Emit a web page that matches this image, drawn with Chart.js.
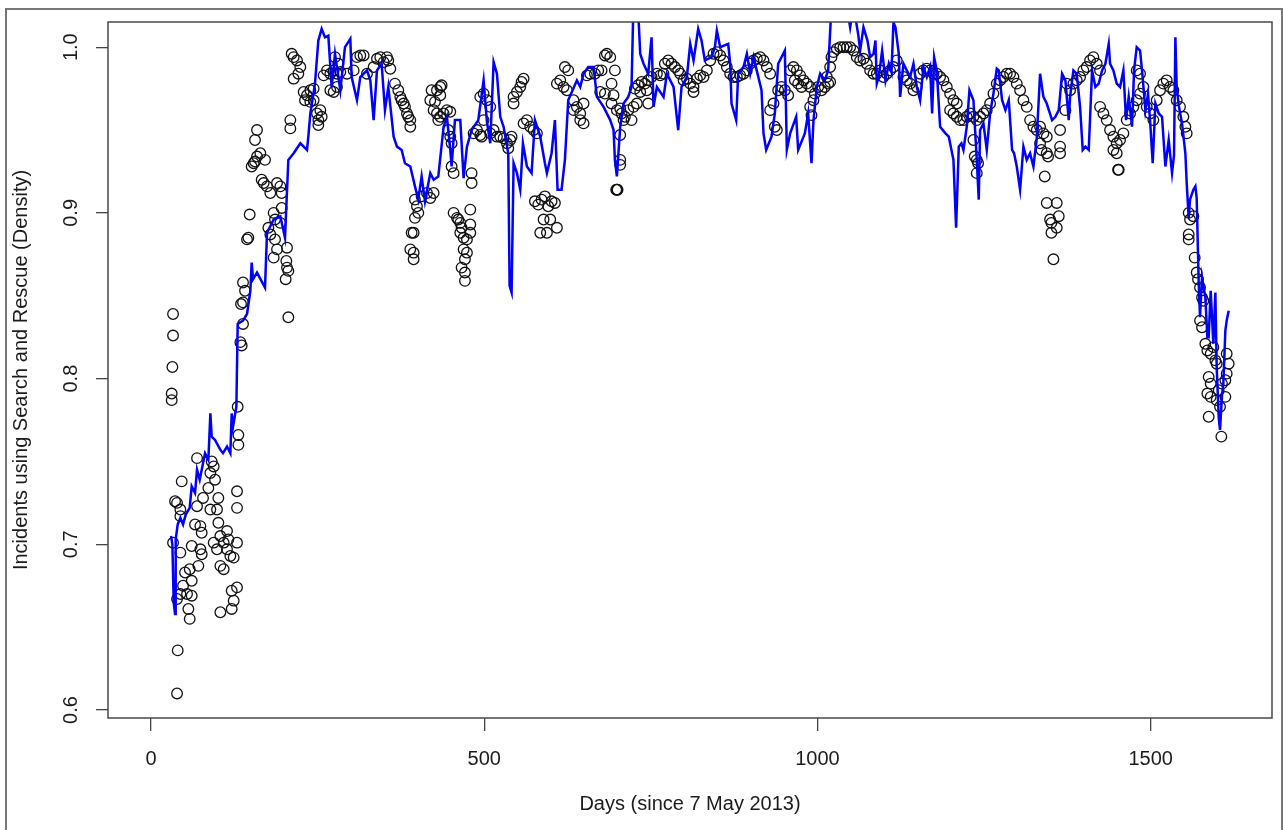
<!DOCTYPE html>
<html>
<head>
<meta charset="utf-8">
<script src="https://cdn.jsdelivr.net/npm/chart.js@4.4.1/dist/chart.umd.min.js"></script>
<style>
html,body{margin:0;padding:0;background:#fff;}
canvas{display:block;}
</style>
</head>
<body>
<canvas id="c" width="1283" height="830"></canvas>
<script>
// ---- Fitted (blue) series: day, density ----
const lineDays = [30,32,34,36,37,40,44,48,52,58,61,66,69,73,81,86,89,91,96,104,108,114,119,121,123,128,130,134,138,144,149,151,153,159,171,174,184,194,201,206,214,224,234,236,239,246,251,256,261,266,271,276,284,291,299,301,309,314,324,329,334,339,346,351,356,364,369,376,381,389,396,401,406,411,419,424,431,439,444,449,451,456,464,469,474,481,491,499,504,509,514,519,524,529,536,538,541,544,549,554,558,564,571,576,584,591,594,601,606,610,616,621,626,639,644,649,656,664,669,679,689,694,696,699,704,709,716,721,724,730,734,739,746,751,754,759,769,774,784,791,796,804,809,814,821,826,831,841,846,849,854,866,869,871,878,881,889,894,899,904,916,919,923,931,936,941,951,954,959,968,971,981,986,991,994,999,1004,1011,1016,1021,1029,1036,1044,1049,1054,1061,1064,1069,1075,1079,1084,1087,1089,1092,1097,1102,1107,1111,1114,1117,1122,1124,1129,1134,1139,1144,1149,1154,1159,1164,1169,1172,1175,1179,1184,1192,1197,1204,1208,1212,1216,1219,1224,1228,1234,1239,1242,1244,1249,1254,1259,1264,1269,1272,1277,1282,1287,1292,1295,1299,1304,1309,1314,1319,1324,1329,1334,1339,1344,1352,1357,1362,1367,1372,1377,1379,1384,1389,1394,1398,1402,1407,1412,1417,1422,1427,1432,1437,1439,1444,1449,1454,1459,1463,1467,1472,1475,1479,1484,1487,1492,1496,1499,1503,1507,1512,1517,1522,1527,1532,1535,1537,1539,1542,1547,1552,1554,1557,1559,1564,1567,1569,1572,1574,1577,1582,1585,1587,1590,1594,1597,1599,1602,1604,1607,1609,1612,1614,1617];
const lineDensity = [.705,.700,.665,.658,.703,.712,.716,.712,.718,.722,.735,.731,.745,.739,.755,.751,.779,.765,.763,.757,.755,.759,.755,.779,.771,.783,.833,.834,.835,.839,.853,.870,.860,.864,.855,.888,.896,.898,.885,.932,.936,.942,.938,.946,.960,.978,1.004,1.011,1.006,1.007,.976,.996,.974,1.000,1.005,.982,.968,.982,.986,.980,.956,.986,.990,.962,.976,.946,.940,.938,.930,.928,.916,.908,.922,.907,.924,.920,.922,.952,.958,.938,.928,.956,.956,.921,.940,.950,.956,.980,.955,.942,.991,.984,.958,.952,.936,.856,.852,.930,.924,.914,.942,.928,.924,.956,.946,.930,.924,.936,.956,.914,.914,.932,.968,.980,.976,.984,.988,.988,.970,.964,.956,.950,.932,.922,.952,.966,.970,.976,1.030,1.030,.996,.990,.984,1.006,.964,.976,.970,.984,.976,.950,.976,.982,1.002,.992,1.011,1.004,.992,.994,1.000,1.010,1.000,1.002,.990,.966,.956,.984,.988,.996,.984,.994,.974,.948,.938,.946,.960,.990,.998,.938,.948,.958,.938,.948,.960,.930,.956,.976,.984,.980,.986,1.025,1.020,1.018,1.025,1.012,1.025,1.008,.998,1.012,1.004,.994,.996,1.004,.978,.982,.998,.980,.990,.985,1.015,1.012,.996,.970,.990,.986,.982,.990,.976,.968,.988,.982,.988,.960,.994,.986,.952,.948,.946,.932,.891,.940,.942,.938,.952,.974,.968,.932,.908,.950,.954,.938,.960,.972,.987,.986,.968,.962,.968,.938,.936,.928,.914,.940,.932,.936,.928,.945,.984,.970,.966,.956,.958,.962,.984,.980,.956,.970,.986,.984,.964,.938,.940,.938,.986,.976,.978,.986,.990,1.002,.990,.986,.978,.976,.986,.956,.970,.952,.986,1.000,.998,.986,.962,.972,.956,.930,.966,.960,.958,.928,.944,.924,.935,1.006,.976,.965,.954,.936,.918,.897,.908,.914,.916,.909,.858,.837,.861,.849,.825,.825,.853,.821,.852,.807,.777,.769,.790,.797,.829,.835,.841];

// ---- Observed (circles) series: day, density ----
const obsDays = [
33,33,32,31,31,40,39,69,46,36,39,44,44,69,66,74,76,61,74,76,71,58,51,61,48,44,54,61,56,58,39,33,44,
91,94,89,96,86,78,101,89,99,101,114,104,116,94,109,129,99,114,119,124,104,109,129,121,124,121,104,129,129,131,131,130,134,136,138,135,138,141,138,
144,146,148,151,154,156,159,164,171,159,156,166,169,174,179,189,194,196,184,186,194,176,179,186,189,184,196,204,203,204,206,202,206,209,209,211,214,219,224,221,214,
229,234,239,244,231,239,244,249,251,254,256,251,259,264,269,274,279,284,294,304,309,319,324,269,274,279,276,281,314,334,339,344,349,354,356,359,366,371,374,376,379,381,384,386,389,389,
396,399,401,396,394,389,394,394,391,406,414,419,424,421,429,434,436,419,426,434,424,429,434,439,444,449,431,446,449,451,451,454,454,459,461,464,466,464,469,474,469,474,471,466,471,471,479,479,479,481,481,484,489,494,499,504,509,514,519,494,499,
496,509,524,529,534,539,536,541,544,549,554,556,559,544,559,564,569,574,579,576,581,586,591,596,601,606,589,599,584,594,609,609,614,619,624,621,626,634,639,644,649,644,649,634,654,659,666,671,676,681,684,689,674,681,691,696,694,691,699,704,704,704,699,700,698,704,706,711,716,721,724,729,709,
726,731,736,741,746,734,744,746,751,759,764,769,771,776,781,786,791,794,799,804,809,814,819,824,829,834,839,844,849,854,859,864,869,874,879,884,889,894,899,904,909,914,919,924,929,814,934,929,939,936,
941,946,951,956,959,964,969,974,979,984,989,966,971,976,989,994,996,991,1001,1006,1011,1016,1019,1021,1024,1029,1034,1039,1044,1049,1054,1059,1064,1069,1074,1079,1084,1014,1019,
1089,1094,1099,1104,1109,1114,1119,1129,1134,1139,1144,1149,1154,1159,1164,1169,1174,1179,1184,1189,1194,1199,1204,1209,1199,1204,1209,1214,1219,1224,1229,1234,1239,1244,1249,1254,1259,1264,1269,1274,1279,1284,1289,1294,1299,1304,1309,1314,1319,1324,1329,1234,1236,1239,1241,1239,
1334,1339,1344,1334,1336,1344,1346,1341,1344,1359,1349,1362,1351,1359,1351,1354,1364,1364,1364,1372,1374,1379,1384,1389,1394,1399,1404,1409,1414,1419,1424,1424,1429,1434,1439,1444,1449,1454,1459,1464,1469,1474,1479,1484,1489,1444,1449,1452,1451,1479,1484,
1494,1499,1504,1509,1514,1519,1524,1529,1534,1539,1544,1549,1552,1554,1557,1559,1564,1557,1557,1566,1569,1571,1574,1577,1579,1574,1577,1582,1585,1590,1594,1597,1599,1587,1590,1585,1590,1587,1599,1604,1612,1614,1617,1614,1612,1607,1602,1606
];
const obsDensity = [
.839,.826,.807,.791,.787,.636,.610,.752,.738,.726,.725,.721,.717,.723,.712,.711,.707,.699,.697,.694,.687,.685,.683,.678,.675,.670,.670,.669,.661,.655,.667,.701,.695,
.750,.747,.743,.739,.734,.728,.728,.721,.721,.713,.708,.705,.703,.701,.701,.701,.697,.697,.693,.692,.687,.685,.674,.672,.666,.661,.659,.732,.722,.766,.760,.783,.822,.820,.833,.845,.846,.853,.858,
.884,.885,.899,.928,.930,.931,.934,.936,.932,.950,.944,.920,.918,.916,.912,.918,.916,.912,.900,.896,.894,.891,.887,.884,.878,.873,.903,.879,.871,.867,.865,.860,.837,.956,.951,.996,.994,.992,.988,.984,.981,
.973,.971,.974,.975,.968,.967,.968,.960,.956,.962,.958,.953,.983,.986,.984,.986,.984,.985,.984,.986,.994,.995,.984,.974,.973,.976,.994,.990,.995,.988,.993,.994,.991,.994,.992,.987,.978,.974,.970,.968,.966,.964,.960,.958,.956,.952,
.908,.904,.900,.897,.888,.878,.876,.872,.888,.910,.912,.909,.912,.974,.974,.976,.977,.968,.967,.971,.962,.960,.958,.960,.962,.961,.956,.950,.946,.942,.928,.924,.900,.897,.896,.894,.891,.888,.885,.884,.878,.876,.872,.867,.864,.859,.902,.893,.888,.924,.918,.948,.950,.947,.956,.968,.964,.950,.946,.970,.972,
.946,.948,.946,.945,.942,.944,.939,.946,.970,.973,.976,.979,.981,.966,.954,.956,.952,.950,.948,.907,.905,.908,.910,.904,.907,.906,.896,.896,.888,.888,.891,.978,.980,.976,.974,.988,.986,.968,.964,.960,.966,.956,.954,.962,.983,.984,.984,.986,.986,.995,.996,.994,.973,.972,.978,.986,.971,.966,.962,.947,.932,.929,.914,.914,.914,.963,.960,.958,.962,.956,.964,.966,.956,
.975,.977,.979,.978,.980,.973,.974,.966,.982,.984,.983,.984,.990,.992,.990,.988,.986,.984,.980,.981,.978,.976,.981,.983,.982,.986,.992,.996,.997,.995,.992,.988,.984,.982,.982,.983,.984,.986,.990,.992,.993,.994,.992,.988,.984,.973,.966,.962,.950,.952,
.974,.976,.974,.971,.986,.988,.986,.983,.980,.978,.976,.980,.978,.976,.964,.968,.972,.959,.976,.974,.976,.978,.988,.994,.997,.999,1.000,1.000,1.000,1.000,.998,.994,.992,.993,.990,.986,.984,.982,.979,
.984,.986,.982,.984,.986,.988,.992,.982,.980,.978,.974,.976,.984,.986,.987,.986,.984,.984,.982,.980,.976,.972,.968,.966,.962,.960,.958,.956,.956,.958,.960,.958,.956,.958,.960,.962,.966,.972,.978,.980,.982,.984,.984,.982,.978,.974,.968,.964,.956,.952,.950,.944,.934,.932,.930,.924,
.952,.948,.946,.942,.938,.936,.934,.922,.906,.906,.896,.898,.894,.891,.888,.872,.950,.940,.936,.962,.978,.974,.978,.980,.982,.986,.988,.992,.994,.990,.986,.964,.960,.956,.950,.946,.942,.944,.948,.956,.960,.964,.968,.972,.976,.938,.936,.926,.926,.986,.984,
.964,.960,.956,.968,.974,.978,.980,.976,.974,.968,.964,.958,.952,.948,.900,.896,.898,.887,.884,.873,.864,.860,.855,.849,.847,.835,.831,.821,.817,.815,.819,.811,.809,.801,.797,.791,.789,.777,.787,.783,.789,.815,.809,.803,.799,.797,.793,.765
];

// ---- Axes ----
const xTicks = [0, 500, 1000, 1500];
const xTickLabels = ['0', '500', '1000', '1500'];
const yTicks = [0.6, 0.7, 0.8, 0.9, 1.0];
const yTickLabels = ['0.6', '0.7', '0.8', '0.9', '1.0'];
const xTitle = 'Days (since 7 May 2013)';
const yTitle = 'Incidents using Search and Rescue (Density)';
const xRange = [-64.6, 1682];
const yRange = [0.5952, 1.0152];

const linePoints = lineDays.map((d, i) => ({x: d, y: lineDensity[i]}));
const n = Math.min(obsDays.length, obsDensity.length);
const obsPoints = [];
for (let i = 0; i < n; i++) obsPoints.push({x: obsDays[i], y: obsDensity[i]});

const FONT = '"Liberation Sans", Arial, Helvetica, sans-serif';
const TEXT = '#1c1c1c';

const decor = {
  id: 'decor',
  beforeDraw(chart) {
    const ctx = chart.ctx;
    ctx.save();
    ctx.fillStyle = '#fff';
    ctx.fillRect(0, 0, chart.width, chart.height);
    ctx.strokeStyle = '#777';
    ctx.lineWidth = 2;
    ctx.strokeRect(6, 9, 1276, 900);
    ctx.restore();
  },
  afterDraw(chart) {
    const ctx = chart.ctx;
    const a = chart.chartArea;
    const xs = chart.scales.x, ys = chart.scales.y;
    ctx.save();
    ctx.strokeStyle = '#4a4a4a';
    ctx.lineWidth = 1.5;
    ctx.strokeRect(a.left, a.top, a.right - a.left, a.bottom - a.top);
    ctx.fillStyle = TEXT;
    ctx.font = '20px ' + FONT;
    ctx.textAlign = 'center';
    ctx.textBaseline = 'middle';
    xTicks.forEach((v, i) => {
      ctx.fillText(xTickLabels[i], xs.getPixelForValue(v), 759);
    });
    ctx.fillText(xTitle, (a.left + a.right) / 2, 804);
    yTicks.forEach((v, i) => {
      ctx.save();
      ctx.translate(71, ys.getPixelForValue(v));
      ctx.rotate(-Math.PI / 2);
      ctx.fillText(yTickLabels[i], 0, 0);
      ctx.restore();
    });
    ctx.save();
    ctx.translate(21, (a.top + a.bottom) / 2);
    ctx.rotate(-Math.PI / 2);
    ctx.fillText(yTitle, 0, 0);
    ctx.restore();
    ctx.restore();
  }
};

new Chart(document.getElementById('c'), {
  type: 'scatter',
  data: {
    datasets: [
      {
        type: 'line',
        label: 'Fitted',
        data: linePoints,
        borderColor: '#0000ff',
        borderWidth: 2.5,
        pointRadius: 0,
        tension: 0,
        fill: false,
        clip: 0,
        order: 0
      },
      {
        type: 'scatter',
        label: 'Observed',
        data: obsPoints,
        pointStyle: 'circle',
        pointRadius: 5.3,
        pointBorderWidth: 1.3,
        borderColor: '#000',
        backgroundColor: 'rgba(0,0,0,0)',
        pointBackgroundColor: 'rgba(0,0,0,0)',
        pointBorderColor: '#111',
        clip: 0,
        order: 1
      }
    ]
  },
  options: {
    responsive: false,
    animation: false,
    events: [],
    layout: {padding: {left: 0, top: 22, right: 11, bottom: 0}},
    plugins: {legend: {display: false}, tooltip: {enabled: false}, title: {display: false}},
    scales: {
      x: {
        type: 'linear',
        min: xRange[0],
        max: xRange[1],
        afterBuildTicks: s => { s.ticks = xTicks.map(v => ({value: v})); },
        afterFit: s => { s.height = 112; },
        ticks: {display: false},
        grid: {display: true, drawOnChartArea: false, drawTicks: true, tickLength: 13, color: '#444', lineWidth: 1.3},
        border: {display: false}
      },
      y: {
        type: 'linear',
        min: yRange[0],
        max: yRange[1],
        afterBuildTicks: s => { s.ticks = yTicks.map(v => ({value: v})); },
        afterFit: s => { s.width = 108; },
        ticks: {display: false},
        grid: {display: true, drawOnChartArea: false, drawTicks: true, tickLength: 12, color: '#444', lineWidth: 1.3},
        border: {display: false}
      }
    }
  },
  plugins: [decor]
});
</script>
</body>
</html>
